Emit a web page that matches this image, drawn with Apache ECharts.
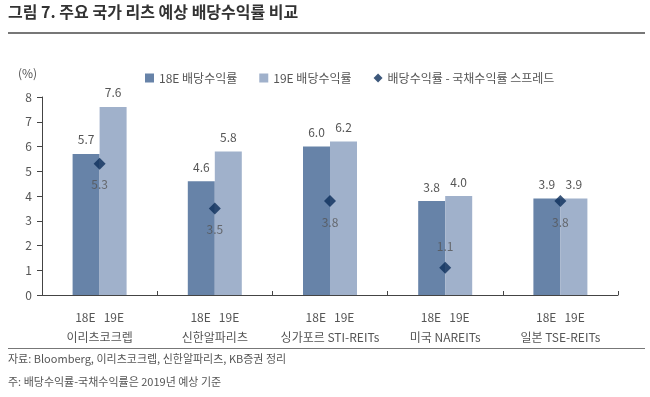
<!DOCTYPE html>
<html>
<head>
<meta charset="utf-8">
<script src="https://cdn.jsdelivr.net/npm/echarts@6/dist/echarts.min.js"></script>
<style>
  html, body { margin: 0; padding: 0; background: #fff; }
  #chart { width: 650px; height: 397px; }
</style>
</head>
<body>
<div id="chart"></div>
<script>
const categories = ["이리츠코크렙", "신한알파리츠", "싱가포르 STI-REITs", "미국 NAREITs", "일본 TSE-REITs"];
const yield18E = [5.7, 4.6, 6.0, 3.8, 3.9];
const yield19E = [7.6, 5.8, 6.2, 4.0, 3.9];
const spread = [5.3, 3.5, 3.8, 1.1, 3.8];
// spread labels sit below the marker, except where the reference puts it above
const spreadLabelPos = ["bottom", "bottom", "bottom", "top", "bottom"];

const FONT = "'Noto Sans CJK KR', 'Noto Sans', sans-serif";
const TEXT = "#555";

const chart = echarts.init(document.getElementById("chart"));

const option = {
  textStyle: { fontFamily: FONT },
  animation: false,
  graphic: [
    { type: "text", left: 8, top: 4, style: { text: "그림 7. 주요 국가 리츠 예상 배당수익률 비교", font: "bold 16px " + FONT, fill: "#333" } },
    { type: "rect", shape: { x: 8, y: 32, width: 637, height: 2 }, style: { fill: "#777" } },
    { type: "text", left: 18, top: 67, style: { text: "(%)", font: "12px " + FONT, fill: TEXT } },
    { type: "rect", shape: { x: 8, y: 348, width: 637, height: 1 }, style: { fill: "#777" } },
    { type: "text", left: 8, top: 353, style: { text: "자료: Bloomberg, 이리츠코크렙, 신한알파리츠, KB증권 정리", font: "11px " + FONT, fill: TEXT } },
    { type: "text", left: 8, top: 376, style: { text: "주: 배당수익률-국채수익률은 2019년 예상 기준", font: "11px " + FONT, fill: TEXT } }
  ],
  legend: {
    top: 67,
    left: 140,
    itemGap: 22,
    itemWidth: 9,
    itemHeight: 9,
    textStyle: { fontSize: 12, color: TEXT, fontFamily: FONT },
    data: [
      { name: "18E 배당수익률", icon: "rect" },
      { name: "19E 배당수익률", icon: "rect" },
      { name: "배당수익률 - 국채수익률 스프레드", icon: "diamond" }
    ]
  },
  grid: { left: 42, right: 32, top: 97, bottom: 102 },
  xAxis: {
    type: "category",
    data: categories,
    axisLine: { lineStyle: { color: "#444" } },
    axisTick: { show: true, inside: true, length: 4, lineStyle: { color: "#444" } },
    axisLabel: {
      interval: 0,
      margin: 12,
      lineHeight: 20,
      color: TEXT,
      fontSize: 12,
      fontFamily: FONT,
      formatter: (v) => "18E   19E\n" + v
    }
  },
  yAxis: {
    type: "value",
    min: 0,
    max: 8,
    interval: 1,
    axisLine: { show: true, lineStyle: { color: "#444" } },
    axisTick: { show: true, length: 5, lineStyle: { color: "#444" } },
    axisLabel: { color: TEXT, fontSize: 12, margin: 10 },
    splitLine: { show: false }
  },
  series: [
    {
      name: "18E 배당수익률",
      type: "bar",
      data: yield18E,
      barWidth: 27,
      barGap: "0%",
      itemStyle: { color: "#6783a8" },
      label: { show: true, position: "top", distance: 8, color: TEXT, fontSize: 12, formatter: (p) => p.value.toFixed(1) }
    },
    {
      name: "19E 배당수익률",
      type: "bar",
      data: yield19E,
      barWidth: 27,
      barGap: "0%",
      itemStyle: { color: "#a0b1cb" },
      label: { show: true, position: "top", distance: 8, color: TEXT, fontSize: 12, formatter: (p) => p.value.toFixed(1) }
    },
    {
      name: "배당수익률 - 국채수익률 스프레드",
      type: "scatter",
      data: spread.map((v, i) => ({ value: v, label: { position: spreadLabelPos[i] } })),
      symbol: "diamond",
      symbolSize: 12,
      itemStyle: { color: "#0d2e5a" },
      label: { show: true, distance: 9, color: TEXT, fontSize: 12, formatter: (p) => p.value.toFixed(1) }
    }
  ]
};

chart.setOption(option);
</script>
</body>
</html>
